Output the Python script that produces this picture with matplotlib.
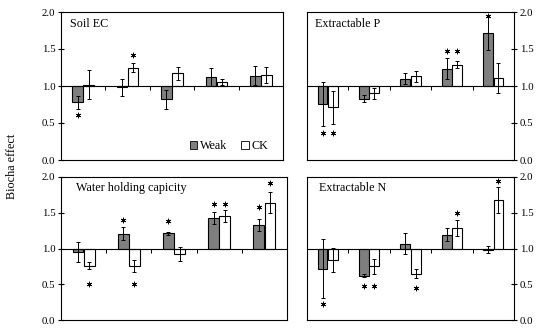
import matplotlib
matplotlib.use("Agg")
import matplotlib.pyplot as plt
from matplotlib.patches import Patch
from matplotlib.lines import TICKDOWN
import numpy as np

plt.rcParams['font.family'] = ['Liberation Serif', 'DejaVu Serif']
plt.rcParams['font.size'] = 8

groups = [1, 2, 3, 4, 5]
series = ["Weak", "CK"]

# Soil EC
ec_weak = [0.78, 0.98, 0.82, 1.12, 1.14]
ec_weak_err = [0.09, 0.11, 0.13, 0.12, 0.13]
ec_ck = [1.02, 1.25, 1.17, 1.06, 1.15]
ec_ck_err = [0.20, 0.065, 0.09, 0.04, 0.11]
ec_weak_star = [0.61, None, None, None, None]
ec_ck_star = [None, 1.42, None, None, None]

# Extractable P
p_weak = [0.76, 0.83, 1.10, 1.235, 1.71]
p_weak_err = [0.30, 0.045, 0.075, 0.14, 0.22]
p_ck = [0.71, 0.90, 1.13, 1.29, 1.11]
p_ck_err = [0.22, 0.07, 0.07, 0.05, 0.20]
p_weak_star = [0.36, None, None, 1.47, 1.95]
p_ck_star = [0.36, None, None, 1.47, None]

# Water holding capicity
w_weak = [0.955, 1.205, 1.21, 1.425, 1.33]
w_weak_err = [0.14, 0.09, 0.02, 0.08, 0.08]
w_ck = [0.76, 0.75, 0.925, 1.45, 1.64]
w_ck_err = [0.05, 0.085, 0.10, 0.085, 0.15]
w_weak_star = [None, 1.40, 1.38, 1.62, 1.58]
w_ck_star = [0.50, 0.50, None, 1.62, 1.91]

# Extractable N
n_weak = [0.72, 0.62, 1.065, 1.195, 0.985]
n_weak_err = [0.41, 0.025, 0.145, 0.095, 0.05]
n_ck = [0.84, 0.75, 0.65, 1.29, 1.68]
n_ck_err = [0.17, 0.10, 0.065, 0.11, 0.18]
n_weak_star = [0.22, 0.48, None, None, None]
n_ck_star = [None, 0.48, 0.45, 1.50, 1.95]

yticks = [0.0, 0.5, 1.0, 1.5, 2.0]
ylabel = "Biocha effect"

panels = [
    ("Soil EC", ec_weak, ec_weak_err, ec_ck, ec_ck_err, ec_weak_star, ec_ck_star, "left"),
    ("Extractable P", p_weak, p_weak_err, p_ck, p_ck_err, p_weak_star, p_ck_star, "right"),
    ("Water holding capicity", w_weak, w_weak_err, w_ck, w_ck_err, w_weak_star, w_ck_star, "left"),
    ("Extractable N", n_weak, n_weak_err, n_ck, n_ck_err, n_weak_star, n_ck_star, "right"),
]

W, H = 550, 332
rects = [
    (61, 12, 283, 160),
    (307, 12, 514, 160),
    (61, 177, 287, 320),
    (307, 177, 514, 320),
]
title_x = [70, 315, 76, 319]

fig = plt.figure(figsize=(W / 100, H / 100), dpi=100)
weak_color = "#7f7f7f"
bw = 0.24
off = 0.125

for (title, wv, we, cv, ce, ws, cs, side), (x0, y0, x1, y1), tx in zip(panels, rects, title_x):
    ax = fig.add_axes([x0 / W, 1 - y1 / H, (x1 - x0) / W, (y1 - y0) / H])
    x = np.array(groups, dtype=float)
    wv = np.array(wv); cv = np.array(cv)
    ekw = dict(ecolor="black", elinewidth=0.7, capsize=1.6, capthick=0.7)
    ax.bar(x - off, wv - 1, bottom=1, width=bw, color=weak_color, edgecolor="black",
           linewidth=0.8, yerr=we, error_kw=ekw, zorder=2)
    ax.bar(x + off, cv - 1, bottom=1, width=bw, color="white", edgecolor="black",
           linewidth=0.8, yerr=ce, error_kw=ekw, zorder=2)
    for i, g in enumerate(groups):
        if ws[i] is not None:
            ax.plot(g - off, ws[i], ls="none", marker=(6, 2, 0), ms=4.0, mew=0.55, color="black")
        if cs[i] is not None:
            ax.plot(g + off, cs[i], ls="none", marker=(6, 2, 0), ms=4.0, mew=0.55, color="black")
    ax.axhline(1.0, color="black", lw=0.8, zorder=3)
    bounds = np.array(groups[:-1]) + 0.5
    ax.plot(bounds, np.ones_like(bounds), ls="none", marker=TICKDOWN, ms=3, mew=0.7,
            color="black", zorder=3)
    ax.set_xlim(0.5, len(groups) + 0.5)
    ax.set_ylim(0, 2)
    ax.set_xticks([])
    ax.set_yticks(yticks)
    ax.set_yticklabels([f"{t:.1f}" for t in yticks])
    if side == "right":
        ax.yaxis.tick_right()
    ax.tick_params(axis="y", direction="inout", length=4.3, width=0.8, pad=2.0, labelsize=7.8)
    for s in ax.spines.values():
        s.set_linewidth(0.8)
    ax.text((tx - x0) / (x1 - x0), 0.92, title, transform=ax.transAxes, ha="left",
            va="center", fontsize=8.7)
    if title == "Soil EC":
        handles = [Patch(facecolor=weak_color, edgecolor="black", linewidth=0.6, label=series[0]),
                   Patch(facecolor="white", edgecolor="black", linewidth=0.6, label=series[1])]
        ax.legend(handles=handles, loc="center left", bbox_to_anchor=((190 - x0) / (x1 - x0), 0.095),
                  ncol=2, frameon=False, handlelength=0.6, handleheight=0.6, handletextpad=0.2,
                  columnspacing=1.2, borderpad=0, borderaxespad=0, fontsize=8.7)

fig.text(12 / W, 1 - 166 / H, ylabel, rotation=90, ha="center", va="center", fontsize=8.7)

fig.savefig("out.png", dpi=100)
